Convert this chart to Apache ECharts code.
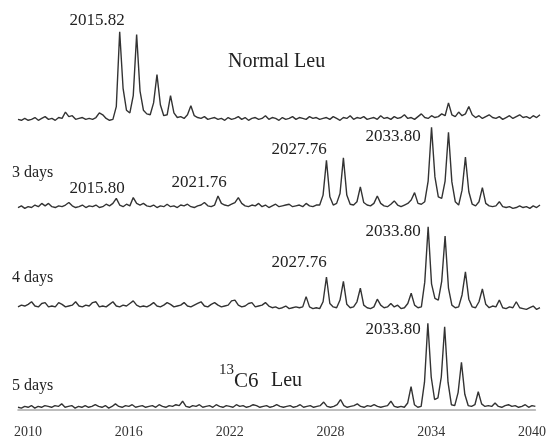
<!DOCTYPE html>
<html>
<head>
<meta charset="utf-8">
<script src="https://cdn.jsdelivr.net/npm/echarts@6/dist/echarts.min.js"></script>
<style>html,body{margin:0;padding:0;background:#fff;}#c{width:549px;height:439px;}</style>
</head>
<body>
<div id="c"></div>
<script>
// m/z sampling positions (shared by all four spectra)
var mz = [2009.4,2009.6,2009.8,
2010,2010.2,2010.4,2010.6,2010.8,2011,2011.2,2011.4,2011.6,2011.8,
2012,2012.2,2012.4,2012.6,2012.8,2013,2013.2,2013.4,2013.6,2013.8,
2014,2014.2,2014.4,2014.6,2014.8,2015,2015.2,2015.4,2015.6,2015.8,
2016,2016.2,2016.4,2016.6,2016.8,2017,2017.2,2017.4,2017.6,2017.8,
2018,2018.2,2018.4,2018.6,2018.8,2019,2019.2,2019.4,2019.6,2019.8,
2020,2020.2,2020.4,2020.6,2020.8,2021,2021.2,2021.4,2021.6,2021.8,
2022,2022.2,2022.4,2022.6,2022.8,2023,2023.2,2023.4,2023.6,2023.8,
2024,2024.2,2024.4,2024.6,2024.8,2025,2025.2,2025.4,2025.6,2025.8,
2026,2026.2,2026.4,2026.6,2026.8,2027,2027.2,2027.4,2027.6,2027.8,
2028,2028.2,2028.4,2028.6,2028.8,2029,2029.2,2029.4,2029.6,2029.8,
2030,2030.2,2030.4,2030.6,2030.8,2031,2031.2,2031.4,2031.6,2031.8,
2032,2032.2,2032.4,2032.6,2032.8,2033,2033.2,2033.4,2033.6,2033.8,
2034,2034.2,2034.4,2034.6,2034.8,2035,2035.2,2035.4,2035.6,2035.8,
2036,2036.2,2036.4,2036.6,2036.8,2037,2037.2,2037.4,2037.6,2037.8,
2038,2038.2,2038.4,2038.6,2038.8,2039,2039.2,2039.4,2039.6,2039.8,
2040,2040.2];

var normalLeu = [4,3,5,3,4,6,3,5,7,4,
5,3,6,5,12,7,8,4,5,6,
4,5,4,6,11,9,5,3,4,18,
100,38,14,11,30,97,35,14,10,9,
22,53,20,8,9,30,11,6,7,5,
9,19,8,6,5,7,4,5,6,4,
5,3,6,4,5,7,4,6,3,5,
6,4,5,8,4,6,5,3,6,4,
5,7,4,6,5,4,7,5,6,4,
5,6,4,7,5,3,6,5,8,4,
6,5,7,4,5,6,4,8,5,6,
4,7,5,6,9,5,6,4,7,10,
6,5,8,6,7,10,8,22,9,7,
12,8,10,18,9,6,8,5,7,9,
6,5,7,4,6,8,5,7,9,6,
7,5,8,6,9];

var days3 = [3,5,2,4,3,6,4,8,5,8,
4,3,5,4,6,9,5,3,4,6,
3,5,4,6,3,4,7,5,8,14,
6,4,7,5,15,8,6,8,5,4,
6,3,5,4,7,4,5,3,6,5,
7,4,3,5,6,9,5,4,6,17,
8,6,5,7,9,15,8,5,4,6,
5,8,4,6,3,5,7,4,5,6,
7,4,5,6,4,8,5,4,6,6,
18,60,16,6,8,20,63,18,7,6,
10,28,9,6,5,8,17,8,5,4,
7,11,6,4,6,8,12,21,8,7,
10,35,100,40,16,14,35,94,34,10,
6,24,64,22,7,5,10,27,8,5,
4,5,10,4,3,4,2,3,5,3,
4,2,5,3,6];

var days4 = [6,8,7,9,12,7,6,10,11,6,
7,6,11,9,6,7,8,12,7,6,
8,7,11,12,6,7,6,9,12,7,
6,8,7,10,13,8,6,7,6,8,
11,7,6,8,11,9,6,7,8,11,
7,6,8,10,12,7,6,9,11,8,
6,7,8,13,14,8,6,7,10,11,
6,7,8,11,7,5,6,4,5,7,
4,5,6,5,6,18,6,4,5,4,
12,41,10,6,5,14,36,9,5,6,
12,28,8,5,4,6,15,8,5,6,
10,6,8,4,5,10,22,8,5,6,
35,100,33,16,14,36,89,28,8,5,
6,20,47,15,6,5,12,27,9,5,
7,6,14,5,4,6,5,12,5,4,
3,5,7,3,5];

var days5 = [3,2,4,3,5,2,4,3,5,4,
3,5,4,7,3,4,5,2,4,3,
5,3,4,6,4,3,5,2,4,7,
4,3,5,4,6,3,4,5,3,4,
5,3,6,4,3,5,4,6,5,10,
4,3,5,4,6,3,4,5,3,6,
4,3,5,4,3,6,4,5,3,4,
6,5,3,4,5,3,4,6,4,3,
4,5,3,4,6,3,4,5,3,4,
5,9,4,3,4,6,12,5,3,4,
5,7,4,3,5,4,6,4,3,4,
5,10,4,3,4,3,8,27,6,3,
4,32,100,38,12,14,38,96,32,6,
5,20,55,18,5,4,6,21,7,4,
5,4,8,4,3,5,6,4,5,3,
4,6,3,5,4];

var tickLabels = [2010, 2016, 2022, 2028, 2034, 2040];
var panelNames = ['Normal Leu', '3 days', '4 days', '5 days'];

var chart = echarts.init(document.getElementById('c'), null, {renderer: 'canvas'});
var serif = 'Liberation Serif';
var spectra = [normalLeu, days3, days4, days5];
var grids = [
  {left: 18, right: 9, top: 31.7, height: 91.3},
  {left: 18, right: 9, top: 127.3, height: 82.7},
  {left: 18, right: 9, top: 226.7, height: 85.3},
  {left: 18, right: 9, top: 323.3, height: 96}
];
var yMins = [0, 0, 0, -8.2];

var xAxes = [], yAxes = [], series = [];
for (var g = 0; g < 4; g++) {
  var last = g === 3;
  xAxes.push({
    type: 'value', gridIndex: g, min: 2009.4, max: 2040.2,
    show: last,
    axisLine: {show: last, lineStyle: {color: '#a8a8a8', width: 1.6}},
    axisTick: {show: false},
    splitLine: {show: false},
    axisLabel: {
      show: last, customValues: tickLabels, margin: 8,
      fontFamily: serif, fontSize: 14, color: '#333',
      formatter: function (v) { return String(v); }
    }
  });
  yAxes.push({type: 'value', gridIndex: g, min: yMins[g], max: 100, show: false, splitLine: {show: false}});
  (function (vals, gi) {
    series.push({
      name: panelNames[gi], type: 'line', xAxisIndex: gi, yAxisIndex: gi,
      showSymbol: false, symbol: 'none', smooth: false,
      lineStyle: {color: '#333', width: 1.4},
      data: mz.map(function (x, k) { return [x, vals[k]]; })
    });
  })(spectra[g], g);
}

function txt(text, x, y, size, align) {
  return {
    type: 'text', x: x, y: y,
    style: {text: text, fontFamily: serif, fontSize: size, fill: '#222',
            textAlign: align || 'center', textVerticalAlign: 'middle', align: align || 'center', verticalAlign: 'middle'}
  };
}

chart.setOption({
  animation: false,
  backgroundColor: '#fff',
  grid: grids,
  xAxis: xAxes,
  yAxis: yAxes,
  series: series,
  graphic: [
    txt('2015.82', 97, 21, 17),
    txt('Normal Leu', 228, 62, 20, 'left'),
    txt('3 days', 12, 173, 16, 'left'),
    txt('2015.80', 97, 189, 17),
    txt('2021.76', 199, 183, 17),
    txt('2027.76', 299, 150, 17),
    txt('2033.80', 393, 137, 17),
    txt('4 days', 12, 278, 16, 'left'),
    txt('2027.76', 299, 263, 17),
    txt('2033.80', 393, 232, 17),
    txt('5 days', 12, 386, 16, 'left'),
    txt('13', 219, 370, 15, 'left'),
    txt('C6', 234, 381, 21, 'left'),
    txt('Leu', 271, 381, 20, 'left'),
    txt('2033.80', 393, 330, 17)
  ]
});
</script>
</body>
</html>
